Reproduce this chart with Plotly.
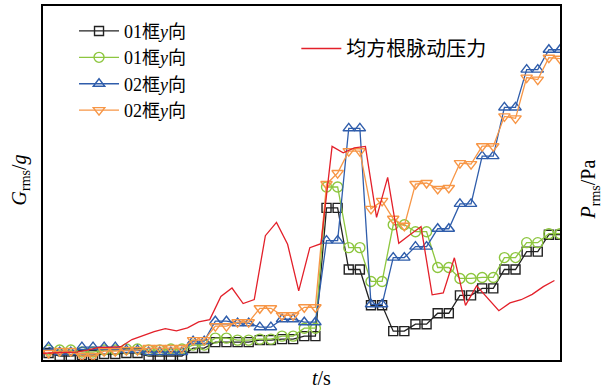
import plotly.graph_objects as go

# Time grid: pressure samples on whole steps, accelerometer samples at half steps
t_p = list(range(47))
t_a = [k + 0.5 for k in t_p]

# Acceleration RMS response (g)
g_01_a = [0.007, 0.004, 0.004, 0.005, 0.005, 0.006, 0.006, 0.007, 0.007, 0.004,
          0.004, 0.004, 0.004, 0.012, 0.012, 0.018, 0.018, 0.018, 0.018, 0.020,
          0.020, 0.021, 0.021, 0.024, 0.024, 0.153, 0.153, 0.091, 0.091, 0.055,
          0.055, 0.029, 0.029, 0.036, 0.036, 0.047, 0.047, 0.065, 0.065, 0.072,
          0.072, 0.091, 0.091, 0.109, 0.109, 0.126, 0.126]
g_01_b = [0.010, 0.010, 0.010, 0.008, 0.008, 0.010, 0.010, 0.011, 0.011, 0.010,
          0.010, 0.011, 0.011, 0.015, 0.015, 0.022, 0.022, 0.020, 0.020, 0.021,
          0.021, 0.024, 0.024, 0.032, 0.032, 0.174, 0.174, 0.113, 0.113, 0.079,
          0.079, 0.136, 0.136, 0.129, 0.129, 0.093, 0.093, 0.082, 0.082, 0.083,
          0.083, 0.103, 0.103, 0.118, 0.118, 0.127, 0.127]
g_02_a = [0.013, 0.008, 0.008, 0.013, 0.013, 0.013, 0.013, 0.010, 0.010, 0.008,
          0.008, 0.008, 0.008, 0.019, 0.019, 0.039, 0.039, 0.037, 0.037, 0.033,
          0.033, 0.041, 0.041, 0.038, 0.038, 0.120, 0.120, 0.233, 0.233, 0.056,
          0.056, 0.103, 0.103, 0.114, 0.114, 0.132, 0.132, 0.157, 0.157, 0.205,
          0.205, 0.254, 0.254, 0.292, 0.292, 0.312, 0.312]
g_02_b = [0.007, 0.009, 0.009, 0.004, 0.004, 0.009, 0.009, 0.010, 0.010, 0.012,
          0.012, 0.012, 0.012, 0.020, 0.020, 0.034, 0.034, 0.038, 0.038, 0.052,
          0.052, 0.045, 0.045, 0.053, 0.053, 0.177, 0.188, 0.210, 0.210, 0.152,
          0.160, 0.142, 0.135, 0.177, 0.178, 0.172, 0.173, 0.198, 0.197, 0.215,
          0.215, 0.245, 0.243, 0.284, 0.282, 0.304, 0.303]

# RMS fluctuating pressure (Pa)
p_rms = [34, 35, 38, 40, 50, 63, 63, 67, 103, 125,
         143, 158, 147, 162, 192, 203, 320, 362, 284, 304,
         625, 692, 582, 348, 565, 585, 1074, 1042, 1067, 1074,
         717, 918, 587, 630, 670, 328, 337, 514, 275, 373,
         308, 248, 287, 303, 330, 369, 400]

names = ["01框<i>y</i>向", "01框<i>y</i>向", "02框<i>y</i>向", "02框<i>y</i>向"]
series = [g_01_a, g_01_b, g_02_a, g_02_b]
colors = ["#222222", "#8dc63f", "#2f5dab", "#f79646"]
symbols = ["square-open", "circle-open", "triangle-up-open", "triangle-down-open"]
sizes = [9, 10, 10, 10]

serif = "Liberation Serif, Noto Sans CJK SC"

fig = go.Figure()
for name, vals, col, sym, sz in zip(names, series, colors, symbols, sizes):
    fig.add_trace(go.Scatter(
        x=t_a, y=vals, name=name, mode="lines+markers",
        line=dict(color=col, width=1.3),
        marker=dict(symbol=sym, size=sz, color=col, line=dict(color=col, width=1.4)),
        legend="legend",
    ))

fig.add_trace(go.Scatter(
    x=t_p, y=p_rms, name="均方根脉动压力", mode="lines",
    line=dict(color="#e3202a", width=1.3), yaxis="y2", legend="legend2",
))

axis_common = dict(showline=True, linecolor="black", linewidth=1.5,
                   showticklabels=False, ticks="", showgrid=False, zeroline=False)

fig.update_layout(
    width=603, height=389,
    margin=dict(l=43, r=43, t=4, b=29),
    plot_bgcolor="white", paper_bgcolor="white",
    font=dict(family=serif, size=20, color="black"),
    xaxis=dict(range=[0, 46.5], mirror=True, **axis_common),
    yaxis=dict(range=[0, 0.356], mirror=True, **axis_common),
    yaxis2=dict(range=[0, 1780], overlaying="y", side="right",
                showline=False, showticklabels=False, ticks="",
                showgrid=False, zeroline=False),
    legend=dict(x=0.06, y=0.981, xanchor="left", yanchor="top",
                bgcolor="rgba(0,0,0,0)", itemwidth=40, tracegroupgap=0,
                font=dict(family=serif, size=18)),
    legend2=dict(x=0.49, y=0.935, xanchor="left", yanchor="top",
                 bgcolor="rgba(0,0,0,0)", itemwidth=40,
                 font=dict(family=serif, size=20)),
    showlegend=True,
    annotations=[
        dict(text="<i>G</i><sub>rms</sub>/<i>g</i>", xref="paper", yref="paper",
             x=-0.0445, y=0.51, xanchor="center", yanchor="middle",
             textangle=-90, showarrow=False,
             font=dict(family=serif, size=20)),
        dict(text="<i>P</i><sub>rms</sub>/Pa", xref="paper", yref="paper",
             x=1.057, y=0.483, xanchor="center", yanchor="middle",
             textangle=-90, showarrow=False,
             font=dict(family=serif, size=20)),
        dict(text="<i>t</i>/s", xref="paper", yref="paper",
             x=0.538, y=-0.0506, xanchor="center", yanchor="middle",
             showarrow=False,
             font=dict(family=serif, size=20)),
    ],
)

fig.write_html("out.html")
